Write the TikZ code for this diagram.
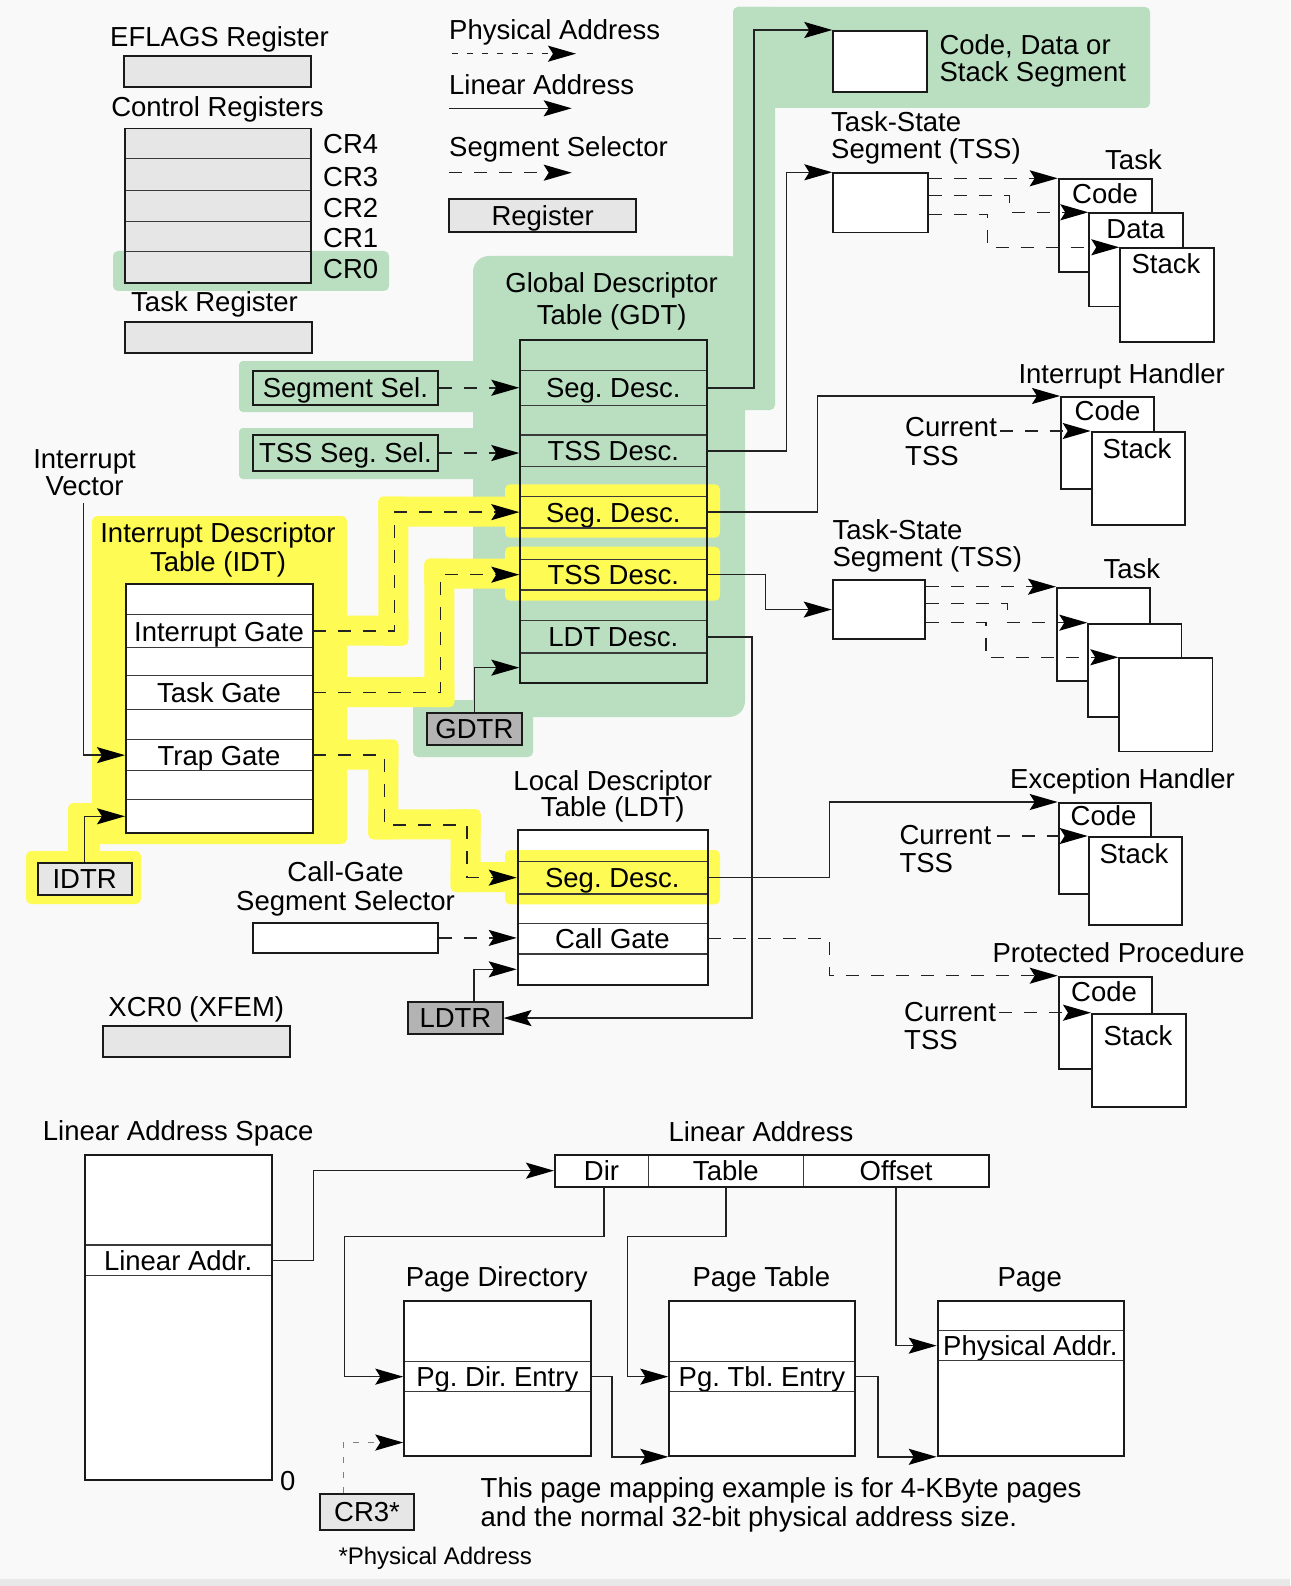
\documentclass[tikz,border=0pt]{standalone}
\usepackage{fontspec}
\setmainfont{Liberation Sans}
\usetikzlibrary{arrows.meta,calc}
\definecolor{bgc}{HTML}{F9F9F9}
\definecolor{bstrip}{HTML}{E8E8E8}
\definecolor{grn}{HTML}{B9DEC0}
\definecolor{ylw}{HTML}{FFFB55}
\definecolor{lgray}{HTML}{E6E6E6}
\definecolor{dgray}{HTML}{B3B3B3}
\definecolor{lnc}{HTML}{1A1A1A}
\definecolor{rowc}{HTML}{3A3A3A}
\definecolor{cnc}{HTML}{222222}
\frenchspacing
\begin{document}
\begin{tikzpicture}[x=1pt,y=-1pt,font=\fontsize{27.5}{31}\selectfont\frenchspacing,
 framebox/.style={draw=lnc,line width=1.8pt,inner sep=0pt,anchor=north west,text height=19.7pt,text depth=0pt},
 tblrow/.style={draw=rowc,line width=1.3pt,inner sep=0pt,anchor=north west,text height=19.7pt,text depth=0pt},
 regbox/.style={framebox,fill=lgray},
 wire/.style={draw=cnc,line width=1.5pt},
 headarrow/.style={-{Stealth[length=28pt,width=16pt,inset=5pt,color=black]}},
 segdash/.style={dash pattern=on 13pt off 12pt},
 physdash/.style={dash pattern=on 6pt off 9pt},
 lw/.style={inner sep=0pt,anchor=base west},
 lc/.style={inner sep=0pt,anchor=base},
 hl/.style={rounded corners=5pt}]
% background
\fill[bgc] (0,0) rectangle (1290,1586);
\useasboundingbox (0,0) rectangle (1290,1586);
\fill[bstrip] (0,1579) rectangle (1290,1586);
% green highlights
\fill[grn,hl] (733,7) rectangle (1150,108);
\fill[grn,hl] (733,7) rectangle (775,410);
\fill[grn,rounded corners=16pt] (473,256) rectangle (745,717);
\fill[grn,hl] (413,700) rectangle (533,757);
\fill[grn,rounded corners=4pt] (239,361) rectangle (480,412);
\fill[grn,rounded corners=4pt] (239,428) rectangle (480,479);
\fill[grn,hl] (113,251) rectangle (389,291);
% yellow highlights
\fill[ylw,hl] (92,516) rectangle (347,844);
\fill[ylw,hl] (68,803) rectangle (100,860);
\fill[ylw,hl] (26,851) rectangle (141,904);
\fill[ylw,hl] (330,615.5) rectangle (408.3,645.5);
\fill[ylw,hl] (378.3,496.5) rectangle (408.3,645.5);
\fill[ylw,hl] (378.3,496.5) rectangle (515,526.5);
\fill[ylw,hl] (330,677) rectangle (454.3,707);
\fill[ylw,hl] (424.3,558.7) rectangle (454.3,707);
\fill[ylw,hl] (424.3,558.7) rectangle (515,588.7);
\fill[ylw,hl] (330,739.5) rectangle (398.3,769.5);
\fill[ylw,hl] (368.3,739.5) rectangle (398.3,839.3);
\fill[ylw,hl] (368.3,809.3) rectangle (480.7,839.3);
\fill[ylw,hl] (450.7,809.3) rectangle (480.7,892);
\fill[ylw,hl] (450.7,862) rectangle (515,892);
\fill[ylw,hl] (505,484.3) rectangle (720,537.7);
\fill[ylw,hl] (505,546.7) rectangle (720,600.7);
\fill[white] (516.7,829.3) rectangle (706.7,984);
\fill[ylw,hl] (505,850) rectangle (720,904.3);

% ---------- legend ----------
\node[lw] (lgPA) at (449,40) {Physical Address};
\coordinate (pa1) at (451.7,53.7); \coordinate (pa2) at (576,53.7);
\draw[wire,physdash,headarrow] (pa1) -- (pa2);
\node[lw] (lgLA) at (449,95) {Linear Address};
\coordinate (la1) at (449,108.3); \coordinate (la2) at (571.7,108.3);
\draw[wire,headarrow] (la1) -- (la2);
\node[lw] (lgSS) at (449,156.7) {Segment Selector};
\coordinate (ss1) at (449,172.7); \coordinate (ss2) at (571.7,172.7);
\draw[wire,segdash,headarrow] (ss1) -- (ss2);
\node[regbox,minimum width=187pt,minimum height=32.7pt] (legreg) at (448.3,198.3) {Register};

% ---------- registers ----------
\node[lc] (eflT) at (219.5,46.5) {EFLAGS Register};
\node[regbox,minimum width=187.6pt,minimum height=31.3pt] (eflags) at (122.7,55) {};
\node[lc] (crT) at (217.5,117) {Control Registers};
\node[tblrow,fill=lgray,minimum width=186.3pt,minimum height=30pt] (cr4) at (123.7,127.7) {};
\node[tblrow,fill=lgray,minimum width=186.3pt,minimum height=32.3pt] (cr3) at (123.7,157.7) {};
\node[tblrow,fill=lgray,minimum width=186.3pt,minimum height=30.7pt] (cr2) at (123.7,190) {};
\node[tblrow,fill=lgray,minimum width=186.3pt,minimum height=30.3pt] (cr1) at (123.7,220.7) {};
\node[tblrow,fill=lgray,minimum width=186.3pt,minimum height=31pt] (cr0) at (123.7,251) {};
\node[framebox,minimum width=186.3pt,minimum height=154.3pt] (crs) at (123.7,127.7) {};
\node[lw] (cr4T) at (323,154) {CR4};
\node[lw] (cr3T) at (323,187) {CR3};
\node[lw] (cr2T) at (323,218) {CR2};
\node[lw] (cr1T) at (323,248) {CR1};
\node[lw] (cr0T) at (323,279) {CR0};
\node[lc] (trT) at (214.5,311.7) {Task Register};
\node[regbox,minimum width=187.6pt,minimum height=31pt] (taskreg) at (123.7,321.3) {};
\node[lc] (xcrT) at (196.3,1016) {XCR0 (XFEM)};
\node[regbox,minimum width=187.3pt,minimum height=31pt] (xcr0) at (101.7,1025) {};

% ---------- selectors ----------
\node[framebox,minimum width=185.6pt,minimum height=33.7pt] (segsel) at (251.7,370) {Segment Sel.};
\node[framebox,minimum width=185.6pt,minimum height=35.7pt] (tsssel) at (251.7,434.3) {TSS Seg. Sel.};
\node[lc] (cgT1) at (345.5,881.7) {Call-Gate};
\node[lc] (cgT2) at (345.5,910) {Segment Selector};
\node[framebox,fill=white,minimum width=185.6pt,minimum height=30.6pt] (cgsel) at (251.7,921.7) {};

% ---------- GDT ----------
\node[lc] (gdtT1) at (611.7,292.7) {Global Descriptor};
\node[lc] (gdtT2) at (611.7,324) {Table (GDT)};
\node[tblrow,minimum width=186.7pt,minimum height=30.8pt] (gdt0) at (519.3,338.7) {};
\node[tblrow,minimum width=186.7pt,minimum height=35.5pt] (gdt1) at (519.3,369.5) {Seg. Desc.};
\node[tblrow,minimum width=186.7pt,minimum height=29.3pt] (gdt2) at (519.3,405) {};
\node[tblrow,minimum width=186.7pt,minimum height=31.7pt] (gdt3) at (519.3,434.3) {TSS Desc.};
\node[tblrow,minimum width=186.7pt,minimum height=29.7pt] (gdt4) at (519.3,466) {};
\node[tblrow,minimum width=186.7pt,minimum height=31.6pt] (gdt5) at (519.3,495.7) {Seg. Desc.};
\node[tblrow,minimum width=186.7pt,minimum height=31.4pt] (gdt6) at (519.3,527.3) {};
\node[tblrow,minimum width=186.7pt,minimum height=30.6pt] (gdt7) at (519.3,558.7) {TSS Desc.};
\node[tblrow,minimum width=186.7pt,minimum height=30.7pt] (gdt8) at (519.3,589.3) {};
\node[tblrow,minimum width=186.7pt,minimum height=32.3pt] (gdt9) at (519.3,620) {LDT Desc.};
\node[tblrow,minimum width=186.7pt,minimum height=29.4pt] (gdt10) at (519.3,652.3) {};
\node[framebox,minimum width=186.7pt,minimum height=343pt] (gdt) at (519.3,338.7) {};
\node[framebox,fill=dgray,minimum width=95pt,minimum height=32.3pt] (gdtr) at (426,711.7) {GDTR};

% ---------- IDT ----------
\node[lc] (ivT1) at (84.5,468) {Interrupt};
\node[lc] (ivT2) at (84.5,495) {Vector};
\node[lc] (idtT1) at (218,542.7) {Interrupt Descriptor};
\node[lc] (idtT2) at (218,571) {Table (IDT)};
\node[tblrow,fill=white,minimum width=186.7pt,minimum height=30.7pt] (idt0) at (125,583.3) {};
\node[tblrow,fill=white,minimum width=186.7pt,minimum height=33pt] (idt1) at (125,614) {Interrupt Gate};
\node[tblrow,fill=white,minimum width=186.7pt,minimum height=28pt] (idt2) at (125,647) {};
\node[tblrow,fill=white,minimum width=186.7pt,minimum height=34pt] (idt3) at (125,675) {Task Gate};
\node[tblrow,fill=white,minimum width=186.7pt,minimum height=30pt] (idt4) at (125,709) {};
\node[tblrow,fill=white,minimum width=186.7pt,minimum height=31pt] (idt5) at (125,739) {Trap Gate};
\node[tblrow,fill=white,minimum width=186.7pt,minimum height=29pt] (idt6) at (125,770) {};
\node[tblrow,fill=white,minimum width=186.7pt,minimum height=33.3pt] (idt7) at (125,799) {};
\node[framebox,minimum width=186.7pt,minimum height=249pt] (idt) at (125,583.3) {};
\node[regbox,minimum width=94pt,minimum height=32.6pt] (idtr) at (36.7,861.7) {IDTR};

% ---------- LDT ----------
\node[lc] (ldtT1) at (612.8,790) {Local Descriptor};
\node[lc] (ldtT2) at (612.8,816.7) {Table (LDT)};
\node[tblrow,minimum width=190pt,minimum height=31.4pt] (ldt0) at (516.7,829.3) {};
\node[tblrow,minimum width=190pt,minimum height=32.6pt] (ldt1) at (516.7,860.7) {Seg. Desc.};
\node[tblrow,minimum width=190pt,minimum height=29.4pt] (ldt2) at (516.7,893.3) {};
\node[tblrow,minimum width=190pt,minimum height=30.6pt] (ldt3) at (516.7,922.7) {Call Gate};
\node[tblrow,minimum width=190pt,minimum height=30.7pt] (ldt4) at (516.7,953.3) {};
\node[framebox,minimum width=190pt,minimum height=154.7pt] (ldt) at (516.7,829.3) {};
\node[framebox,fill=dgray,minimum width=94.4pt,minimum height=32.3pt] (ldtr) at (407.3,1001) {LDTR};

% ---------- right side ----------
\node[framebox,fill=white,minimum width=93.4pt,minimum height=61pt] (cds) at (832.3,30) {};
\node[lw] (cdsT1) at (939.3,55) {Code, Data or};
\node[lw] (cdsT2) at (939.3,81.7) {Stack Segment};

\node[lw] (tss1T1) at (831,131.7) {Task-State};
\node[lw] (tss1T2) at (831,158.3) {Segment (TSS)};
\node[framebox,fill=white,minimum width=94.4pt,minimum height=59.4pt] (tss1) at (832.3,172.3) {};
\node[lw] (task1T) at (1105,170) {Task};
\node[framebox,fill=white,minimum width=93.3pt,minimum height=92.7pt] (code1) at (1057.7,178.3) {};
\node[framebox,fill=white,minimum width=93.7pt,minimum height=93.4pt] (data1) at (1088.3,212.3) {};
\node[framebox,fill=white,minimum width=93.4pt,minimum height=93.4pt] (stack1) at (1119.3,247.3) {};
\node[lc] (code1T) at (1105,204) {Code};
\node[lc] (data1T) at (1135.5,238.3) {Data};
\node[lc] (stack1T) at (1166,274) {Stack};

\node[lw] (ihT) at (1018.3,383.3) {Interrupt Handler};
\node[framebox,fill=white,minimum width=93.3pt,minimum height=91.7pt] (code2) at (1060,396) {};
\node[framebox,fill=white,minimum width=93.6pt,minimum height=93pt] (stack2) at (1090.7,431) {};
\node[lc] (code2T) at (1107.5,420.7) {Code};
\node[lc] (stack2T) at (1137,458.3) {Stack};
\node[lw] (cur1T1) at (905,436.7) {Current};
\node[lw] (cur1T2) at (905,465) {TSS};

\node[lw] (tss2T1) at (832.3,539.3) {Task-State};
\node[lw] (tss2T2) at (832.3,566.7) {Segment (TSS)};
\node[framebox,fill=white,minimum width=92.6pt,minimum height=59.3pt] (tss2) at (831.7,579) {};
\node[lw] (task2T) at (1103.3,578.3) {Task};
\node[framebox,fill=white,minimum width=93.3pt,minimum height=93.3pt] (tb1) at (1056,586.7) {};
\node[framebox,fill=white,minimum width=93.3pt,minimum height=93.3pt] (tb2) at (1087.3,622.7) {};
\node[framebox,fill=white,minimum width=93.3pt,minimum height=93.3pt] (tb3) at (1118.3,657.3) {};

\node[lw] (ehT) at (1010,788.3) {Exception Handler};
\node[framebox,fill=white,minimum width=92.3pt,minimum height=90.7pt] (code3) at (1057.7,802) {};
\node[framebox,fill=white,minimum width=93.3pt,minimum height=88pt] (stack3) at (1087.7,836) {};
\node[lc] (code3T) at (1103.5,825) {Code};
\node[lc] (stack3T) at (1134,863.3) {Stack};
\node[lw] (cur2T1) at (899.3,844.3) {Current};
\node[lw] (cur2T2) at (899.3,872.7) {TSS};

\node[lw] (ppT) at (992.3,962.7) {Protected Procedure};
\node[framebox,fill=white,minimum width=93pt,minimum height=92.6pt] (code4) at (1057.7,975.7) {};
\node[framebox,fill=white,minimum width=94pt,minimum height=93.3pt] (stack4) at (1091,1012.7) {};
\node[lc] (code4T) at (1104,1001.7) {Code};
\node[lc] (stack4T) at (1138,1045) {Stack};
\node[lw] (cur3T1) at (904,1021) {Current};
\node[lw] (cur3T2) at (904,1049.3) {TSS};

% ---------- paging ----------
\node[lw] (lasT) at (42.7,1140.7) {Linear Address Space};
\node[tblrow,fill=white,minimum width=186.4pt,minimum height=90.3pt] (las0) at (84.3,1154) {};
\node[tblrow,fill=white,minimum width=186.4pt,minimum height=30.7pt] (las1) at (84.3,1244.3) {Linear Addr.};
\node[tblrow,fill=white,minimum width=186.4pt,minimum height=204.3pt] (las2) at (84.3,1275) {};
\node[framebox,minimum width=186.4pt,minimum height=325.3pt] (las) at (84.3,1154) {};
\node[lw] (zeroT) at (280,1490.7) {0};

\node[lw] (laT) at (668.3,1141.7) {Linear Address};
\node[tblrow,fill=white,minimum width=93.7pt,minimum height=32pt] (ladir) at (554,1154) {Dir};
\node[tblrow,fill=white,minimum width=155pt,minimum height=32pt] (latable) at (647.7,1154) {Table};
\node[tblrow,fill=white,minimum width=185.6pt,minimum height=32pt] (laoff) at (802.7,1154) {Offset};
\node[framebox,minimum width=434.3pt,minimum height=32pt] (laddr) at (554,1154) {};

\node[lc] (pdT) at (496.7,1286.7) {Page Directory};
\node[tblrow,fill=white,minimum width=186.7pt,minimum height=61pt] (pd0) at (403.3,1300) {};
\node[tblrow,fill=white,minimum width=186.7pt,minimum height=30pt] (pd1) at (403.3,1361) {Pg. Dir. Entry};
\node[tblrow,fill=white,minimum width=186.7pt,minimum height=64pt] (pd2) at (403.3,1391) {};
\node[framebox,minimum width=186.7pt,minimum height=155pt] (pdbox) at (403.3,1300) {};

\node[lc] (ptT) at (761.3,1286.7) {Page Table};
\node[tblrow,fill=white,minimum width=186pt,minimum height=61pt] (pt0) at (668.3,1300) {};
\node[tblrow,fill=white,minimum width=186pt,minimum height=30pt] (pt1) at (668.3,1361) {Pg. Tbl. Entry};
\node[tblrow,fill=white,minimum width=186pt,minimum height=64pt] (pt2) at (668.3,1391) {};
\node[framebox,minimum width=186pt,minimum height=155pt] (ptbox) at (668.3,1300) {};

\node[lc] (pgT) at (1029.7,1286.7) {Page};
\node[tblrow,fill=white,minimum width=186pt,minimum height=30pt] (pg0) at (936.7,1300) {};
\node[tblrow,fill=white,minimum width=186pt,minimum height=30pt] (pg1) at (936.7,1330) {Physical Addr.};
\node[tblrow,fill=white,minimum width=186pt,minimum height=95pt] (pg2) at (936.7,1360) {};
\node[framebox,minimum width=186pt,minimum height=155pt] (pgbox) at (936.7,1300) {};

\node[regbox,minimum width=94.3pt,minimum height=35.7pt] (cr3b) at (319,1493.3) {CR3*};
\node[lw,font=\fontsize{24}{28}\selectfont] (physT) at (338.3,1564.3) {*Physical Address};
\node[lw] (noteT1) at (480.5,1497.7) {This page mapping example is for 4-KByte pages};
\node[lw] (noteT2) at (480.5,1526.7) {and the normal 32-bit physical address size.};

% ---------- connectors ----------
\draw[wire,segdash,headarrow] (segsel.east) -- (segsel.east -| gdt1.west);
\draw[wire,segdash,headarrow] (tsssel.east) -- (tsssel.east -| gdt3.west);
\draw[wire,headarrow] (gdtr.north) |- (gdt10.west);
\draw[wire,headarrow] (gdt1.east) -- ++(46.7,0) |- (cds.north west);
\draw[wire,headarrow] (gdt3.east) -- ++(79,0) |- (tss1.north west);
\draw[wire,headarrow] (gdt5.east) -- ++(110,0) |- (code2.north west);
\draw[wire,headarrow] (gdt7.east) -- ++(58.3,0) |- (tss2.west);
\draw[wire,headarrow] (gdt9.east) -- ++(44.7,0) |- (ldtr.east);

\coordinate (ivec) at (83.3,503);
\draw[wire,headarrow] (ivec) |- (idt5.west);
\draw[wire,headarrow] (idtr.north) |- (idt7.west);
\draw[wire,segdash,headarrow] (idt1.east) -- ++(81.6,0) |- (gdt5.west);
\draw[wire,segdash,headarrow] (idt3.east) -- ++(127.6,0) |- (gdt7.west);
\draw[wire,segdash,headarrow] (idt5.east) -- ++(71.6,0) -- ++(0,69.8) -- ++(82.4,0) |- (ldt1.west);

\draw[wire,segdash,headarrow] (cgsel.east) -- (cgsel.east -| ldt3.west);
\draw[wire,headarrow] ([xshift=-29.4pt]ldtr.north east) |- (ldt4.west);
\draw[wire,headarrow] (ldt1.east) -- ++(121.6,0) |- (code3.north west);
\draw[wire,segdash,headarrow] (ldt3.east) -- ++(121.6,0) |- (code4.north west);

\draw[wire,segdash,headarrow] ([yshift=-6pt]tss1.north east) -- (code1.north west);
\draw[wire,segdash,headarrow] ([yshift=-23.4pt]tss1.north east) -- ++(81,0) |- (data1.north west);
\draw[wire,segdash,headarrow] ([yshift=-42pt]tss1.north east) -- ++(59,0) |- (stack1.north west);

\draw[wire,segdash,headarrow] ([yshift=-7.7pt]tss2.north east) -- (tb1.north west);
\draw[wire,segdash,headarrow] ([yshift=-24.3pt]tss2.north east) -- ++(81.4,0) |- (tb2.north west);
\draw[wire,segdash,headarrow] ([yshift=-43.3pt]tss2.north east) -- ++(59.7,0) |- (tb3.north west);

\coordinate (cur1) at (1000,431);
\draw[wire,segdash,headarrow] (cur1) -- (stack2.north west);
\coordinate (cur2) at (996.7,836);
\draw[wire,segdash,headarrow] (cur2) -- (stack3.north west);
\coordinate (cur3) at (999,1012.7);
\draw[wire,segdash,headarrow] (cur3) -- (stack4.north west);

\draw[wire,headarrow] (las1.east) -- ++(41.6,0) |- (ladir.west);
\coordinate (dirturn) at (344.3,1236.7);
\draw[wire,headarrow] ([xshift=2.5pt]ladir.south) |- (dirturn) |- (pd1.west);
\coordinate (tblturn) at (627.7,1236.7);
\draw[wire,headarrow] (latable.south) |- (tblturn) |- (pt1.west);
\draw[wire,headarrow] (laoff.south) |- (pg1.west);
\draw[wire,headarrow] (pd1.east) -- ++(20.7,0) |- (ptbox.south west);
\draw[wire,headarrow] (pt1.east) -- ++(22.4,0) |- (pgbox.south west);
\draw[wire,draw=gray,physdash,headarrow] ([xshift=24.3pt]cr3b.north west) |- ([yshift=14.3pt]pdbox.south west);
\end{tikzpicture}
\end{document}
